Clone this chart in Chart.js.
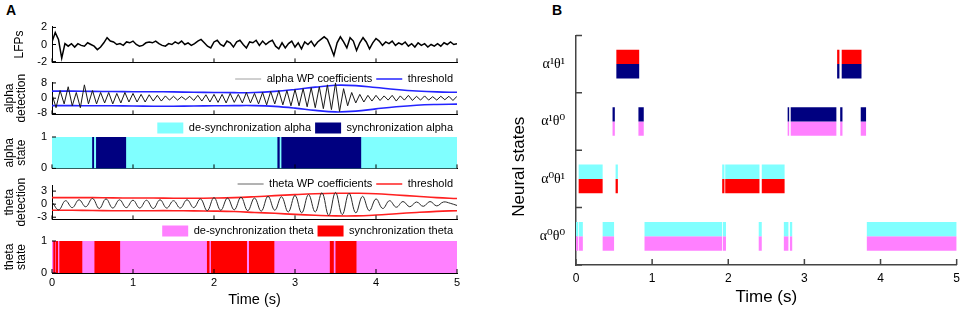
<!DOCTYPE html>
<html>
<head>
<meta charset="utf-8">
<script src="https://cdn.jsdelivr.net/npm/chart.js@4.4.1/dist/chart.umd.min.js"></script>
<style>
html, body { margin: 0; padding: 0; background: #fff; }
#fig { position: relative; width: 964px; height: 311px; overflow: hidden; }
#fig canvas { position: absolute; left: 0; top: 0; }
.tag { position: absolute; font: bold 14px "Liberation Sans", Arial, sans-serif; line-height: 14px; }
</style>
</head>
<body>
<div id="fig">
  <div class="tag" style="left:6px;top:3px">A</div>
  <div class="tag" style="left:552px;top:3px">B</div>
  <canvas id="lfpChart" width="470" height="60"></canvas>
  <canvas id="alphaDetChart" width="470" height="80"></canvas>
  <canvas id="alphaStateChart" width="470" height="80"></canvas>
  <canvas id="thetaDetChart" width="470" height="80"></canvas>
  <canvas id="thetaStateChart" width="470" height="90"></canvas>
  <canvas id="statesChart" width="460" height="311"></canvas>
</div>
<script>
// time axis
var timeTicks = [0, 1, 2, 3, 4, 5];

// LFP trace, one value every 0.04 s
var lfpStep = 0.04;
var lfp = [
  0.3, 1.4, 0.6, -1.6, 0.1, -0.2, 0.1, -0.3, 0.1, -0.1,
  -0.2, 0.2, 0.0, -0.2, -0.6, -0.3, 0.2, 0.8, 0.4, 0.3,
  0.0, 0.1, -0.1, 0.3, 0.2, 0.4, 0.0, -0.2, -0.1, 0.2,
  0.3, 0.2, 0.4, 0.1, -0.1, -0.2, 0.1, 0.0, 0.3, 0.1,
  0.4, 0.0, 0.2, -0.1, 0.1, 0.4, 0.6, 0.2, -0.2, -0.4,
  0.3, 0.5, 0.0, -0.2, 0.4, 0.2, -0.3, 0.3, 0.5, 0.0,
  -0.4, 0.3, 0.2, 0.5, -0.1, 0.4, 0.0, 0.3, 0.5, -0.2,
  -0.5, 0.2, -0.4, 0.1, 0.4, -0.3, 0.2, -0.5, 0.3, 0.0,
  0.4, -0.2, 0.3, 0.6, 0.9, 0.6, -0.3, -1.3, 0.2, 0.9,
  0.3, -0.4, 0.8, 0.4, -0.7, 0.2, 0.8, 0.3, -0.5, 0.2,
  0.7, 0.4, -0.1, 0.3, 0.1, 0.4, -0.1, 0.2, 0.0, 0.3,
  -0.2, 0.1, -0.3, 0.2, -0.1, 0.1, -0.3, 0.0, -0.2, 0.1,
  -0.2, 0.2, 0.0, 0.3, 0.0, 0.1
];

// alpha wavelet packet coefficients, one value every 0.05 s
var alphaStep = 0.05;
var alphaWP = [
  2, -5, 4, -3, 6, -4, 3, -5, 7, -3,
  4, -3, 3, -2.5, 3, -3, 2.5, -2.5, 3, -2,
  2.5, -2, 2, -2, 1.8, -1.5, 1.5, -1.5, 1.2, -1,
  1, -1, 0.8, -0.8, 1, -1.2, 1.5, -1.5, 1.8, -2,
  2, -2.2, 2, -2.5, 2.5, -2.2, 2, -2.5, 3, -2.5,
  2.5, -3, 3, -3.5, 3.5, -3, 4, -3.5, 4, -4,
  4.5, -4, 5, -4.5, 5.5, -5, 6, -5.5, 7, -6,
  8, -7, 5, -4, 3, -2.5, 2, -2, 1.5, -1.5,
  1.5, -1.2, 1.2, -1, 1.5, -1.5, 1.2, -1, 1.5, -1.2,
  1, -1, 1.2, -1, 0.8, -1, 1, -0.8, 1, -1.2,
  1
];

// thresholds, one value every 0.25 s
var thrStep = 0.25;
var alphaThrUp = [3.7, 3.7, 3.6, 3.5, 3.4, 3.4, 3.3, 3.1, 3.0, 2.9, 3.0, 3.6, 4.6, 5.8, 6.8, 6.6, 5.6, 4.6, 3.8, 3.3, 3.1];
var alphaThrLo = [-3.9, -3.9, -4.0, -4.0, -4.1, -4.2, -4.2, -4.1, -4.0, -3.9, -3.9, -4.3, -5.2, -6.4, -7.2, -6.8, -5.6, -4.5, -3.7, -3.3, -3.1];

// theta wavelet packet coefficients, one value every 1/12 s
var thetaStep = 1 / 12;
var thetaWP = [
  0.5, -1.3, 0.8, -0.8, 1.0, -0.6, 1.3, -1.0, 1.2, -0.9,
  1.0, -0.8, 0.9, -0.9, 0.9, -1.0, 1.0, -0.9, 0.8, -0.9,
  1.0, -0.8, 1.2, -1.5, 1.5, -1.4, 1.4, -1.3, 1.6, -1.5,
  1.4, -1.6, 1.8, -1.4, 1.7, -1.8, 2.0, -2.0, 2.2, -1.8,
  2.6, -2.6, 2.7, -2.4, 2.5, -2.0, 1.8, -1.5, 1.2, -1.0,
  0.8, -0.7, 0.6, -0.6, 0.5, -0.5, 0.6, -0.4, 0.5, 0.2,
  -0.3
];
var thetaThrUp = [1.5, 1.5, 1.5, 1.45, 1.4, 1.4, 1.35, 1.35, 1.4, 1.5, 1.7, 1.95, 2.2, 2.4, 2.5, 2.5, 2.4, 2.1, 1.8, 1.5, 1.3];
var thetaThrLo = [-1.4, -1.4, -1.45, -1.5, -1.5, -1.5, -1.5, -1.55, -1.6, -1.7, -1.9, -2.1, -2.35, -2.55, -2.7, -2.7, -2.5, -2.2, -1.9, -1.65, -1.5];

// state intervals [start, end] in seconds
var fullRange = [[0, 5]];
var alphaSync = [[0.50, 0.515], [0.548, 0.911], [2.787, 2.807], [2.836, 3.813]];
var thetaSync = [[0.02, 0.035], [0.05, 0.07], [0.095, 0.37], [0.528, 0.837], [1.917, 1.94], [1.966, 2.403], [2.436, 2.741], [3.434, 3.475], [3.504, 3.755]];

// panel B
var stateLabels = ['α¹θ¹', 'α¹θ⁰', 'α⁰θ¹', 'α⁰θ⁰'];
var a1t1 = [[0.53, 0.83], [3.43, 3.46], [3.49, 3.75]];
var a1t0 = [[0.48, 0.51], [0.82, 0.89], [2.78, 2.80], [2.82, 3.42], [3.47, 3.50], [3.74, 3.81]];
var a0t1 = [[0.035, 0.35], [0.52, 0.55], [1.92, 1.95], [1.96, 2.41], [2.44, 2.74]];
var a0t0 = [[0, 0.03], [0.04, 0.09], [0.35, 0.50], [0.90, 1.92], [1.93, 1.97], [2.40, 2.44], [2.73, 2.79], [2.81, 2.84], [3.82, 5.0]];

var NAVY = '#000080', CYAN = '#80ffff', PINK = '#ff80ff', RED = '#ff0000';

Chart.defaults.font.family = "'Liberation Sans', Arial, sans-serif";
Chart.defaults.font.size = 11;
Chart.defaults.color = '#000';
Chart.defaults.animation = false;
Chart.defaults.events = [];
Chart.defaults.responsive = false;
Chart.defaults.maintainAspectRatio = false;
Chart.defaults.plugins.tooltip.enabled = false;

// matlab style ticks pointing into the plot
var inTicks = {
    id: 'inTicks',
    afterDatasetsDraw: function (chart, args, opts) {
        if (!opts || !opts.len) return;
        var ctx = chart.ctx, a = chart.chartArea;
        var xs = chart.scales.x, ys = chart.scales.y;
        ctx.save();
        ctx.strokeStyle = opts.color || '#000';
        ctx.lineWidth = opts.width || 1;
        ctx.beginPath();
        xs.ticks.forEach(function (t, i) {
            var px = xs.getPixelForTick(i);
            ctx.moveTo(px, a.bottom);
            ctx.lineTo(px, a.bottom - opts.len);
        });
        var yPix = [];
        if (opts.bands) {
            for (var k = 0; k <= opts.bands; k++) yPix.push(ys.getPixelForDecimal(k / opts.bands));
        } else {
            ys.ticks.forEach(function (t, i) { yPix.push(ys.getPixelForTick(i)); });
        }
        yPix.forEach(function (py) {
            ctx.moveTo(a.left, py);
            ctx.lineTo(a.left + opts.len, py);
        });
        ctx.stroke();
        ctx.restore();
    }
};

// let the legend sit on top of the plot box like in the figure
var legendShift = {
    id: 'legendShift',
    afterLayout: function (chart, args, opts) {
        var lg = chart.legend;
        if (!lg || !lg.options.display || !opts || opts.center === undefined) return;
        var cur = lg.top + lg.options.labels.padding + 5.5;
        var dy = chart.chartArea.top + opts.center - cur;
        lg.top += dy;
        lg.bottom += dy;
    }
};
Chart.register(inTicks, legendShift);

// move / size a canvas so that its plot area lands on the given box
function place(chart, l, t, r, b) {
    var a = chart.chartArea;
    chart.resize(Math.round(chart.width + (r - l) - (a.right - a.left)), Math.round(chart.height + (b - t) - (a.bottom - a.top)));
    a = chart.chartArea;
    chart.canvas.style.left = (l - a.left) + 'px';
    chart.canvas.style.top = (t - a.top) + 'px';
}

var axisLine = { display: true, color: '#000', width: 1 };

function yAxis(min, max, ticks, title, pad) {
    return {
        type: 'linear', min: min, max: max, offset: false,
        afterBuildTicks: function (s) { s.ticks = ticks.map(function (v) { return { value: v }; }); },
        afterFit: function (s) { s.width = 52; },
        grid: { display: false, drawTicks: false },
        border: axisLine,
        ticks: { padding: 5, font: { size: 11 } },
        title: { display: true, text: title, font: { size: 12, lineHeight: '12px' }, padding: { top: pad, bottom: 0 } }
    };
}

function xAxis(showLabels) {
    return {
        type: 'linear', min: 0, max: 5, offset: false,
        afterBuildTicks: function (s) { s.ticks = timeTicks.map(function (v) { return { value: v }; }); },
        afterFit: function (s) { s.height = showLabels ? 36 : 0; },
        grid: { display: false, drawTicks: false },
        border: axisLine,
        ticks: { display: showLabels, padding: 3, maxRotation: 0, font: { size: 11 } },
        title: { display: showLabels, text: 'Time (s)', font: { size: 14.5 }, padding: { top: 0, bottom: 0 } }
    };
}

function series(values, step) {
    return values.map(function (v, i) { return { x: i * step, y: v }; });
}

var padA = { left: 0, right: 8, top: 8, bottom: 6 };

function lineLegend(center, lineColor) {
    return {
        legend: {
            display: true, position: 'top', align: 'end',
            labels: {
                usePointStyle: true, pointStyleWidth: 26, boxHeight: 11, padding: 4,
                font: { size: 11 },
                generateLabels: function (chart) {
                    var items = Chart.defaults.plugins.legend.labels.generateLabels(chart);
                    items[0].strokeStyle = lineColor;
                    return items.slice(0, 2);
                }
            }
        },
        legendShift: { center: center },
        inTicks: { len: 4 }
    };
}

function stateLegend(center) {
    return {
        legend: {
            display: true, position: 'top', align: 'end', reverse: true,
            labels: { boxWidth: 26, boxHeight: 11, padding: 4, font: { size: 11 } }
        },
        legendShift: { center: center },
        inTicks: { len: 4 }
    };
}

// LFPs
var lfpChart = new Chart(document.getElementById('lfpChart'), {
    type: 'line',
    data: {
        datasets: [{
            label: 'LFPs', data: series(lfp, lfpStep),
            borderColor: '#000', borderWidth: 1.5, pointRadius: 0, tension: 0
        }]
    },
    options: {
        layout: { padding: padA },
        scales: { x: xAxis(false), y: yAxis(-2.1, 2.1, [-2, 0, 2], 'LFPs', 14) },
        plugins: { legend: { display: false }, inTicks: { len: 4 } }
    }
});
place(lfpChart, 52, 27, 457, 63);

// alpha detection
var alphaDetChart = new Chart(document.getElementById('alphaDetChart'), {
    type: 'line',
    data: {
        datasets: [{
            label: 'alpha WP coefficients', data: series(alphaWP, alphaStep),
            borderColor: '#1a1a1a', borderWidth: 1, pointRadius: 0, pointStyle: 'line', tension: 0
        }, {
            label: 'threshold', data: series(alphaThrUp, thrStep),
            borderColor: '#2424ff', borderWidth: 1.6, pointRadius: 0, pointStyle: 'line', tension: 0.4
        }, {
            label: 'threshold', data: series(alphaThrLo, thrStep),
            borderColor: '#2424ff', borderWidth: 1.6, pointRadius: 0, pointStyle: 'line', tension: 0.4
        }]
    },
    options: {
        layout: { padding: padA },
        scales: { x: xAxis(false), y: yAxis(-8.5, 8.5, [-8, 0, 8], ['alpha', 'detection'], 4) },
        plugins: lineLegend(-3, '#a0a0a0')
    }
});
place(alphaDetChart, 52, 82, 457, 114);

// alpha state
var alphaStateChart = new Chart(document.getElementById('alphaStateChart'), {
    type: 'bar',
    data: {
        datasets: [{
            label: 'synchronization alpha',
            data: alphaSync.map(function (s) { return { x: s, y: 0.5 }; }),
            backgroundColor: NAVY, borderWidth: 0, grouped: false, barPercentage: 1, categoryPercentage: 1
        }, {
            label: 'de-synchronization alpha',
            data: fullRange.map(function (s) { return { x: s, y: 0.5 }; }),
            backgroundColor: CYAN, borderWidth: 0, grouped: false, barPercentage: 1, categoryPercentage: 1
        }]
    },
    options: {
        indexAxis: 'y',
        layout: { padding: padA },
        scales: { x: xAxis(false), y: yAxis(0, 1, [0, 1], ['alpha', 'state'], 4) },
        plugins: stateLegend(-9)
    }
});
place(alphaStateChart, 52, 137, 457, 168);

// theta detection
var thetaDetChart = new Chart(document.getElementById('thetaDetChart'), {
    type: 'line',
    data: {
        datasets: [{
            label: 'theta WP coefficients', data: series(thetaWP, thetaStep),
            borderColor: '#2a2a2a', borderWidth: 1, pointRadius: 0, pointStyle: 'line', tension: 0.4
        }, {
            label: 'threshold', data: series(thetaThrUp, thrStep),
            borderColor: '#ff2020', borderWidth: 1.6, pointRadius: 0, pointStyle: 'line', tension: 0.4
        }, {
            label: 'threshold', data: series(thetaThrLo, thrStep),
            borderColor: '#ff2020', borderWidth: 1.6, pointRadius: 0, pointStyle: 'line', tension: 0.4
        }]
    },
    options: {
        layout: { padding: padA },
        scales: { x: xAxis(false), y: yAxis(-3.5, 4.4, [-3, 0, 3], ['theta', 'detection'], 4) },
        plugins: lineLegend(-1, '#666')
    }
});
place(thetaDetChart, 52, 185, 457, 219);

// theta state
var thetaStateChart = new Chart(document.getElementById('thetaStateChart'), {
    type: 'bar',
    data: {
        datasets: [{
            label: 'synchronization theta',
            data: thetaSync.map(function (s) { return { x: s, y: 0.5 }; }),
            backgroundColor: RED, borderWidth: 0, grouped: false, barPercentage: 1, categoryPercentage: 1
        }, {
            label: 'de-synchronization theta',
            data: fullRange.map(function (s) { return { x: s, y: 0.5 }; }),
            backgroundColor: PINK, borderWidth: 0, grouped: false, barPercentage: 1, categoryPercentage: 1
        }]
    },
    options: {
        indexAxis: 'y',
        layout: { padding: padA },
        scales: { x: xAxis(true), y: yAxis(0, 1, [0, 1], ['theta', 'state'], 4) },
        plugins: stateLegend(-10)
    }
});
place(thetaStateChart, 52, 241, 457, 273);

// panel B: neural states, upper and lower half of each row
var stateRows = [a1t1, a1t0, a0t1, a0t0];
var upperColors = [RED, NAVY, CYAN, CYAN];
var lowerColors = [NAVY, PINK, RED, PINK];

function halfBars(colors) {
    var data = [], bg = [];
    stateRows.forEach(function (iv, r) {
        iv.forEach(function (s) {
            data.push({ x: s, y: stateLabels[r] });
            bg.push(colors[r]);
        });
    });
    return { data: data, backgroundColor: bg, borderWidth: 0, categoryPercentage: 0.5, barPercentage: 1 };
}

var statesChart = new Chart(document.getElementById('statesChart'), {
    type: 'bar',
    data: {
        labels: stateLabels,
        datasets: [halfBars(upperColors), halfBars(lowerColors)]
    },
    options: {
        indexAxis: 'y',
        layout: { padding: { left: 0, right: 6, top: 6, bottom: 0 } },
        scales: {
            x: {
                type: 'linear', min: 0, max: 5, offset: false,
                afterBuildTicks: function (s) { s.ticks = timeTicks.map(function (v) { return { value: v }; }); },
                afterFit: function (s) { s.height = 45; },
                grid: { display: false, drawTicks: false },
                border: { display: true, color: '#444', width: 1.5 },
                ticks: { padding: 6, maxRotation: 0, font: { size: 12 } },
                title: { display: true, text: 'Time (s)', font: { size: 17 }, padding: { top: 0, bottom: 2 } }
            },
            y: {
                type: 'category', offset: true,
                afterFit: function (s) { s.width = 71; },
                grid: { display: false, drawTicks: false },
                border: { display: true, color: '#444', width: 1.5 },
                ticks: { padding: 11, font: { family: "'Liberation Serif', 'DejaVu Serif', serif", size: 14 } },
                // trailing spaces push the centred title a bit lower, as in the figure
                title: { display: true, text: 'Neural states\u00a0\u00a0\u00a0\u00a0\u00a0\u00a0\u00a0', font: { size: 17, lineHeight: 1 }, padding: { top: 5.5, bottom: 0 } }
            }
        },
        plugins: { legend: { display: false }, inTicks: { len: 6, bands: 4, color: '#444', width: 1.5 } }
    }
});
place(statesChart, 576, 35, 957, 265);
</script>
</body>
</html>
